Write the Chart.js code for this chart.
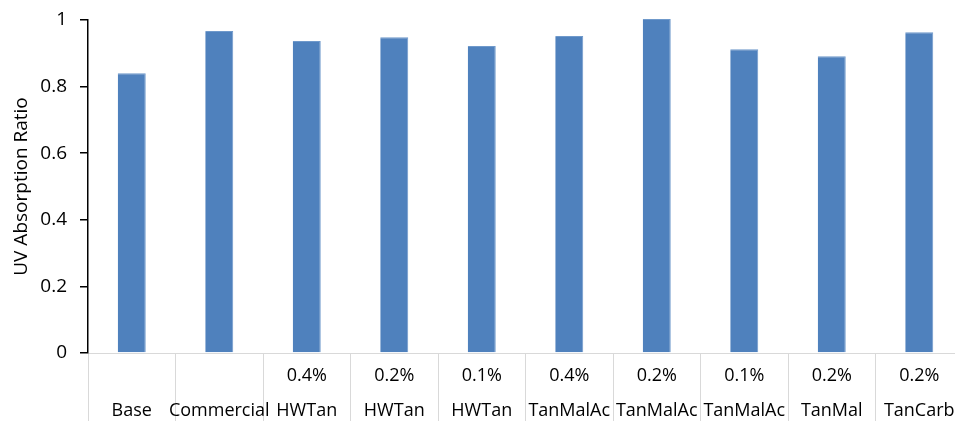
<!DOCTYPE html>
<html>
<head>
<meta charset="utf-8">
<script src="https://cdn.jsdelivr.net/npm/chart.js@4/dist/chart.umd.min.js"></script>
<style>
  html, body { margin: 0; padding: 0; background: #fff; overflow: hidden; }
  #wrap { position: relative; width: 966px; height: 421px; }
</style>
</head>
<body>
<div id="wrap"><canvas id="c"></canvas></div>
<script>
// Additive concentration (upper label row) and additive name (lower row)
const concentrations = ['', '', '0.4%', '0.2%', '0.1%', '0.4%', '0.2%', '0.1%', '0.2%', '0.2%'];
const additives = ['Base', 'Commercial', 'HWTan', 'HWTan', 'HWTan', 'TanMalAc', 'TanMalAc', 'TanMalAc', 'TanMal', 'TanCarb'];
// UV absorption ratio per sample
const uvRatio = [0.840, 0.967, 0.937, 0.948, 0.922, 0.952, 1.003, 0.912, 0.891, 0.963];
// Value axis tick labels
const yTickLabels = ['0', '0.2', '0.4', '0.6', '0.8', '1'];

const labels = additives.map((name, i) => [concentrations[i], name]);
const FONT = "'Open Sans', sans-serif";

new Chart(document.getElementById('c'), {
  type: 'bar',
  data: {
    labels: labels,
    datasets: [{
      data: uvRatio,
      backgroundColor: '#4F81BD',
      borderColor: '#6F99CB',
      borderWidth: { top: 1, left: 0, right: 1, bottom: 0 },
      barPercentage: 0.32,
      categoryPercentage: 1,
      clip: false
    }]
  },
  options: {
    responsive: true,
    maintainAspectRatio: false,
    animation: false,
    layout: { padding: { top: 20, right: 3, bottom: 0, left: 0 } },
    plugins: { legend: { display: false }, tooltip: { enabled: false } },
    scales: {
      x: {
        offset: true,
        // the category band: 68px tall, separators run through it to the bottom edge
        afterFit: (scale) => { scale.height = 68; },
        border: { display: true, color: '#D9D9D9', width: 1 },
        grid: {
          offset: true,
          drawOnChartArea: false,
          drawTicks: true,
          tickLength: 75,
          color: '#D9D9D9',
          tickColor: '#D9D9D9'
        },
        ticks: {
          color: '#000',
          padding: -70,
          maxRotation: 0,
          autoSkip: false,
          font: { family: FONT, size: 18, lineHeight: '35px' }
        }
      },
      y: {
        min: 0,
        max: 1,
        afterFit: (scale) => {
          scale.width = 88;
          scale.paddingTop = 10;
          scale.paddingBottom = 10;
        },
        border: { display: true, color: '#000', width: 1.5 },
        grid: {
          drawOnChartArea: false,
          drawTicks: true,
          tickLength: 8,
          color: '#000',
          tickColor: '#000',
          lineWidth: 1.5
        },
        ticks: {
          stepSize: 0.2,
          padding: 13,
          color: '#000',
          font: { family: FONT, size: 19 },
          callback: (v, i) => yTickLabels[i]
        },
        title: {
          display: true,
          text: 'UV Absorption Ratio',
          color: '#000',
          font: { family: FONT, size: 19 },
          padding: { top: 10, bottom: 0 }
        }
      }
    }
  }
});
</script>
</body>
</html>
